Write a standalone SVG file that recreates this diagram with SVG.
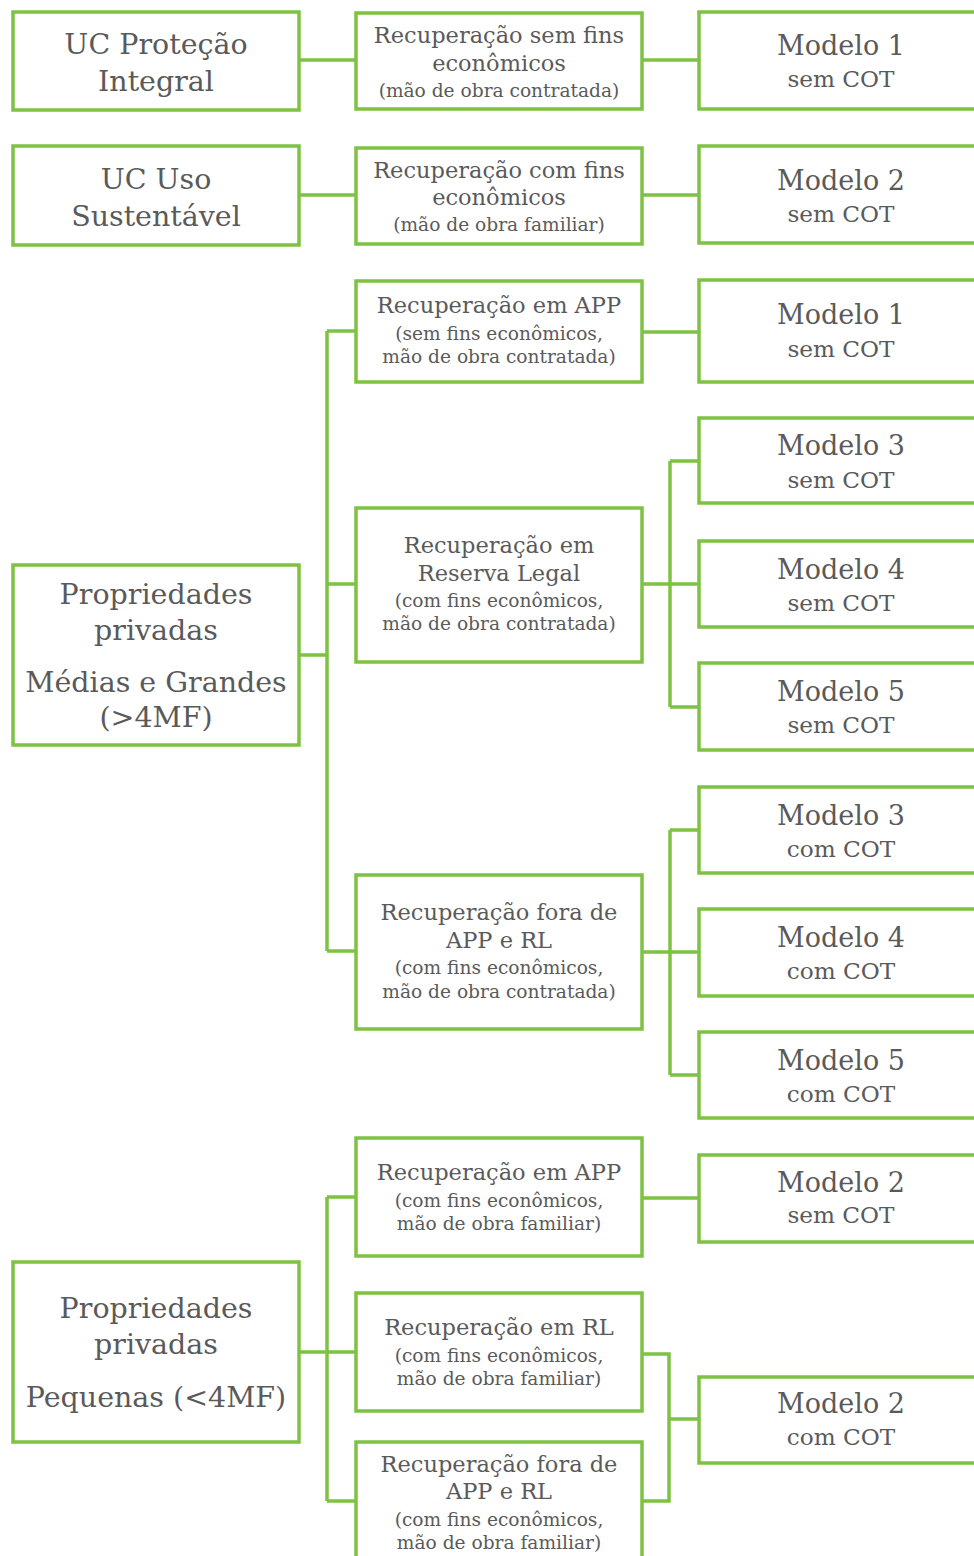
<svg xmlns="http://www.w3.org/2000/svg" width="974" height="1556" viewBox="0 0 974 1556">
<style>
.b{fill:#fff;stroke:#7dc242;stroke-width:3.5}
.c{fill:none;stroke:#7dc242;stroke-width:3.5}
text{font-family:"DejaVu Serif","Liberation Serif",serif;fill:#5a5a5a;text-anchor:middle}
.L{font-size:28.5px}
.M{font-size:22.5px}
.S{font-size:18.6px}
.R{font-size:27px}
.r{font-size:23.2px}
</style>
<rect width="974" height="1556" fill="#fff"/>
<g id="connectors">
<path class="c" d="M299 60H356M642 60H699"/>
<path class="c" d="M299 195H356M642 195H699"/>
<path class="c" d="M299 655H327M327 331V951M327 331H356M327 584H356M327 951H356"/>
<path class="c" d="M642 332H699"/>
<path class="c" d="M642 584H699M670 461V707M670 461H699M670 707H699"/>
<path class="c" d="M642 952H699M670 830V1075M670 830H699M670 1075H699"/>
<path class="c" d="M299 1352H327M327 1197V1501M327 1197H356M327 1352H356M327 1501H356"/>
<path class="c" d="M642 1198H699"/>
<path class="c" d="M642 1354H669V1501H642M669 1419H699"/>
</g>
<g id="uc-protecao"><rect class="b" x="13" y="12" width="286" height="98"/><text class="L" x="156" y="54">UC Proteção</text><text class="L" x="156" y="91">Integral</text></g>
<g id="uc-uso"><rect class="b" x="13" y="146" width="286" height="99"/><text class="L" x="156" y="189">UC Uso</text><text class="L" x="156" y="226">Sustentável</text></g>
<g id="medias"><rect class="b" x="13" y="565" width="286" height="180"/><text class="L" x="156" y="604">Propriedades</text><text class="L" x="156" y="640">privadas</text><text class="L" x="156" y="692">Médias e Grandes</text><text class="L" x="156" y="727">(&gt;4MF)</text></g>
<g id="pequenas"><rect class="b" x="13" y="1262" width="286" height="180"/><text class="L" x="156" y="1318">Propriedades</text><text class="L" x="156" y="1354">privadas</text><text class="L" x="156" y="1407">Pequenas (&lt;4MF)</text></g>

<g id="m1"><rect class="b" x="356" y="13" width="286" height="96"/><text class="M" x="499" y="43">Recuperação sem fins</text><text class="M" x="499" y="71">econômicos</text><text class="S" x="499" y="97">(mão de obra contratada)</text></g>
<g id="m2"><rect class="b" x="356" y="148" width="286" height="96"/><text class="M" x="499" y="178">Recuperação com fins</text><text class="M" x="499" y="205">econômicos</text><text class="S" x="499" y="231">(mão de obra familiar)</text></g>
<g id="m3"><rect class="b" x="356" y="281" width="286" height="101"/><text class="M" x="499" y="313">Recuperação em APP</text><text class="S" x="499" y="340">(sem fins econômicos,</text><text class="S" x="499" y="363">mão de obra contratada)</text></g>
<g id="m4"><rect class="b" x="356" y="508" width="286" height="154"/><text class="M" x="499" y="553">Recuperação em</text><text class="M" x="499" y="581">Reserva Legal</text><text class="S" x="499" y="607">(com fins econômicos,</text><text class="S" x="499" y="630">mão de obra contratada)</text></g>
<g id="m5"><rect class="b" x="356" y="875" width="286" height="154"/><text class="M" x="499" y="920">Recuperação fora de</text><text class="M" x="499" y="948">APP e RL</text><text class="S" x="499" y="974">(com fins econômicos,</text><text class="S" x="499" y="998">mão de obra contratada)</text></g>
<g id="m6"><rect class="b" x="356" y="1138" width="286" height="118"/><text class="M" x="499" y="1180">Recuperação em APP</text><text class="S" x="499" y="1207">(com fins econômicos,</text><text class="S" x="499" y="1230">mão de obra familiar)</text></g>
<g id="m7"><rect class="b" x="356" y="1293" width="286" height="118"/><text class="M" x="499" y="1335">Recuperação em RL</text><text class="S" x="499" y="1362">(com fins econômicos,</text><text class="S" x="499" y="1385">mão de obra familiar)</text></g>
<g id="m8"><rect class="b" x="356" y="1442" width="286" height="130"/><text class="M" x="499" y="1472">Recuperação fora de</text><text class="M" x="499" y="1499">APP e RL</text><text class="S" x="499" y="1526">(com fins econômicos,</text><text class="S" x="499" y="1549">mão de obra familiar)</text></g>

<g id="r1"><rect class="b" x="699" y="12" width="300" height="97"/><text class="R" x="841" y="55">Modelo 1</text><text class="r" x="841" y="87">sem COT</text></g>
<g id="r2"><rect class="b" x="699" y="146" width="300" height="97"/><text class="R" x="841" y="190">Modelo 2</text><text class="r" x="841" y="222">sem COT</text></g>
<g id="r3"><rect class="b" x="699" y="280" width="300" height="102"/><text class="R" x="841" y="324">Modelo 1</text><text class="r" x="841" y="357">sem COT</text></g>
<g id="r4"><rect class="b" x="699" y="418" width="300" height="85"/><text class="R" x="841" y="455">Modelo 3</text><text class="r" x="841" y="488">sem COT</text></g>
<g id="r5"><rect class="b" x="699" y="541" width="300" height="86"/><text class="R" x="841" y="579">Modelo 4</text><text class="r" x="841" y="611">sem COT</text></g>
<g id="r6"><rect class="b" x="699" y="663" width="300" height="87"/><text class="R" x="841" y="701">Modelo 5</text><text class="r" x="841" y="733">sem COT</text></g>
<g id="r7"><rect class="b" x="699" y="787" width="300" height="86"/><text class="R" x="841" y="825">Modelo 3</text><text class="r" x="841" y="857">com COT</text></g>
<g id="r8"><rect class="b" x="699" y="909" width="300" height="87"/><text class="R" x="841" y="947">Modelo 4</text><text class="r" x="841" y="979">com COT</text></g>
<g id="r9"><rect class="b" x="699" y="1032" width="300" height="86"/><text class="R" x="841" y="1070">Modelo 5</text><text class="r" x="841" y="1102">com COT</text></g>
<g id="r10"><rect class="b" x="699" y="1155" width="300" height="87"/><text class="R" x="841" y="1192">Modelo 2</text><text class="r" x="841" y="1223">sem COT</text></g>
<g id="r11"><rect class="b" x="699" y="1377" width="300" height="86"/><text class="R" x="841" y="1413">Modelo 2</text><text class="r" x="841" y="1445">com COT</text></g>
</svg>
